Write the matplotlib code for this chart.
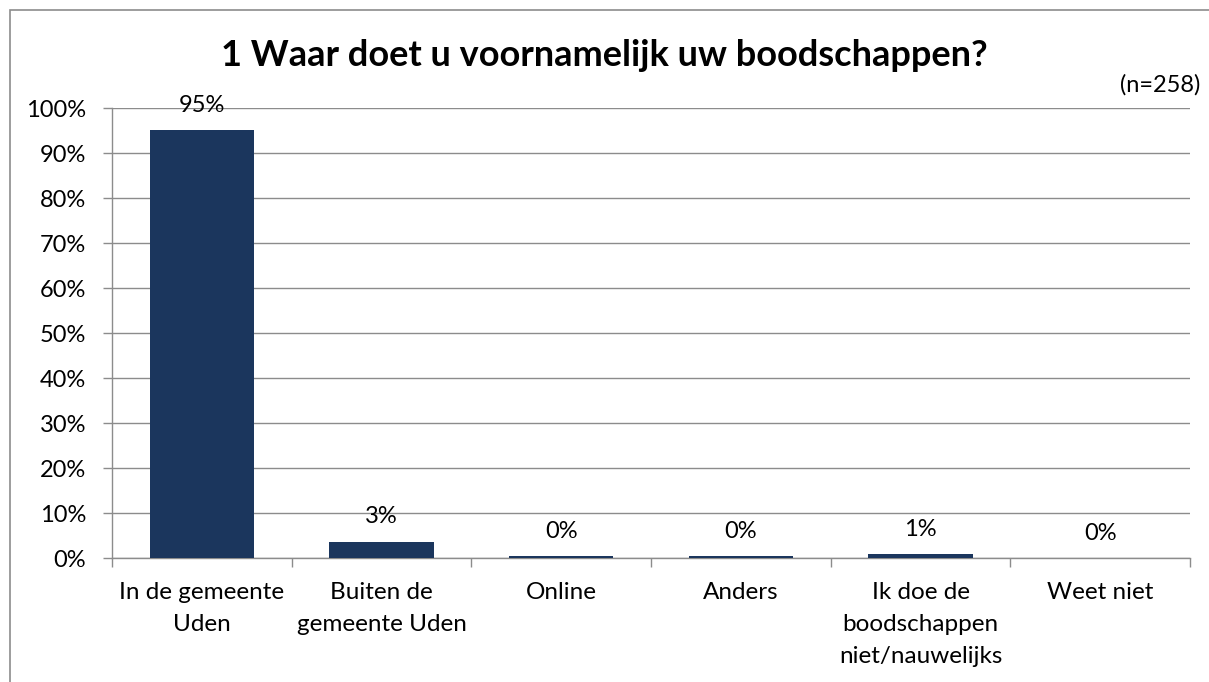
import matplotlib.pyplot as plt
import numpy as np

plt.rcParams['font.family'] = ['Lato', 'DejaVu Sans']

categories = ['In de gemeente\nUden', 'Buiten de\ngemeente Uden', 'Online', 'Anders',
              'Ik doe de\nboodschappen\nniet/nauwelijks', 'Weet niet']
values = [95.1, 3.6, 0.4, 0.4, 0.8, 0.0]
labels = ['95%', '3%', '0%', '0%', '1%', '0%']

fig = plt.figure(figsize=(12.09, 6.82), dpi=100)
ax = fig.add_axes([0.0926, 0.1818, 0.8917, 0.6598])

# kader rond de grafiek
fig.patches.append(plt.Rectangle((10 / 1209, -0.01), 1.2, 1 - 10 / 682 + 0.01,
                                 transform=fig.transFigure, fill=False,
                                 edgecolor='#8c8c8c', linewidth=1.2))

x = np.arange(len(categories))
ax.bar(x, values, width=0.58, color='#1b365d', zorder=3)
for xi, v, lab in zip(x, values, labels):
    ax.annotate(lab, (xi, v), xytext=(0, 18), textcoords='offset points',
                ha='center', va='center', fontsize=17)

ax.set_xlim(-0.5, len(categories) - 0.5)
ax.set_ylim(0, 100)
ax.set_yticks(np.arange(0, 101, 10))
ax.set_yticklabels([f'{t}%' for t in range(0, 101, 10)], fontsize=17)
ax.yaxis.grid(True, color='#8c8c8c', linewidth=1, zorder=0)
ax.tick_params(axis='y', length=6.5, color='#8c8c8c', width=1, pad=12)

ax.set_xticks(x)
ax.set_xticklabels(categories, fontsize=17.5, linespacing=1.65)
ax.set_xticks(np.arange(-0.5, len(categories)), minor=True)
ax.tick_params(axis='x', which='major', length=0, pad=17)
ax.tick_params(axis='x', which='minor', length=6.5, color='#8c8c8c', width=1)

for s in ['top', 'right']:
    ax.spines[s].set_visible(False)
for s in ['left', 'bottom']:
    ax.spines[s].set_color('#8c8c8c')
    ax.spines[s].set_linewidth(1)

fig.text(0.5, 1 - 55 / 682, '1 Waar doet u voornamelijk uw boodschappen?', ha='center',
         va='center', fontsize=26, fontweight='bold')
fig.text(1200 / 1209, 1 - 85 / 682, '(n=258)', ha='right', va='center', fontsize=17)

fig.savefig('out.png', dpi=100)
